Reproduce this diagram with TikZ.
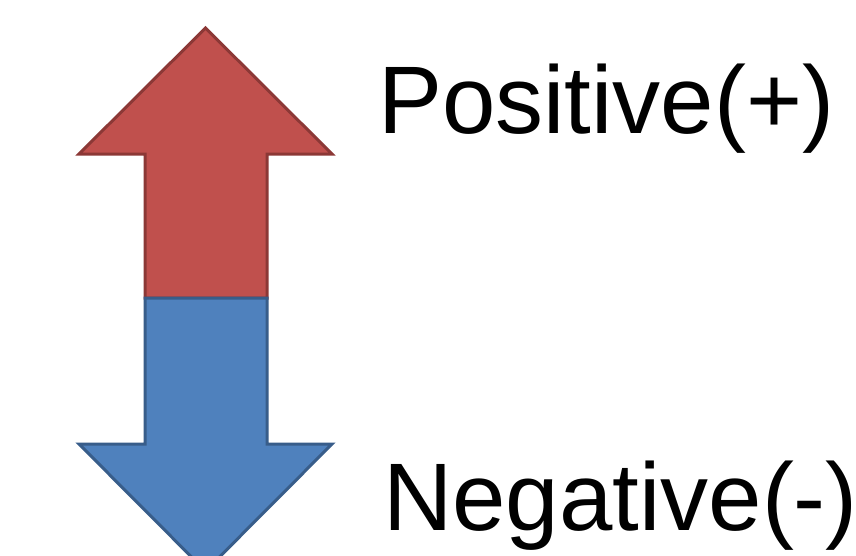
\documentclass[tikz,border=0pt]{standalone}
\usepackage{fontspec}
\setmainfont{Liberation Sans}
\definecolor{redfill}{HTML}{C0504D}
\definecolor{redline}{HTML}{8C3836}
\definecolor{bluefill}{HTML}{4F81BD}
\definecolor{blueline}{HTML}{385D8A}
\tikzset{
  uparrow/.style={fill=redfill,draw=redline,line width=3pt,line join=miter},
  downarrow/.style={fill=bluefill,draw=blueline,line width=3pt,line join=miter},
  label/.style={inner sep=0pt,anchor=base west,font=\fontsize{96}{110}\selectfont}
}
\begin{document}
\begin{tikzpicture}[x=1pt,y=-1pt]
\useasboundingbox (0,0) rectangle (856,555);
\fill[white] (0,0) rectangle (856,555);
\begin{scope}
\clip (0,0) rectangle (856,555);
\draw[uparrow] (205.5,28) -- (79,154) -- (145,154) -- (145,298) -- (267,298) -- (267,154) -- (332,154) -- cycle;
\draw[downarrow] (145,298) -- (267,298) -- (267,444) -- (332,444) -- (205.5,571) -- (79,444) -- (145,444) -- cycle;
\end{scope}
\node[label] (pos) at (378,133) {Positive(+)};
\node[label] (neg) at (383,530) {Negative(-)};
\end{tikzpicture}
\end{document}
